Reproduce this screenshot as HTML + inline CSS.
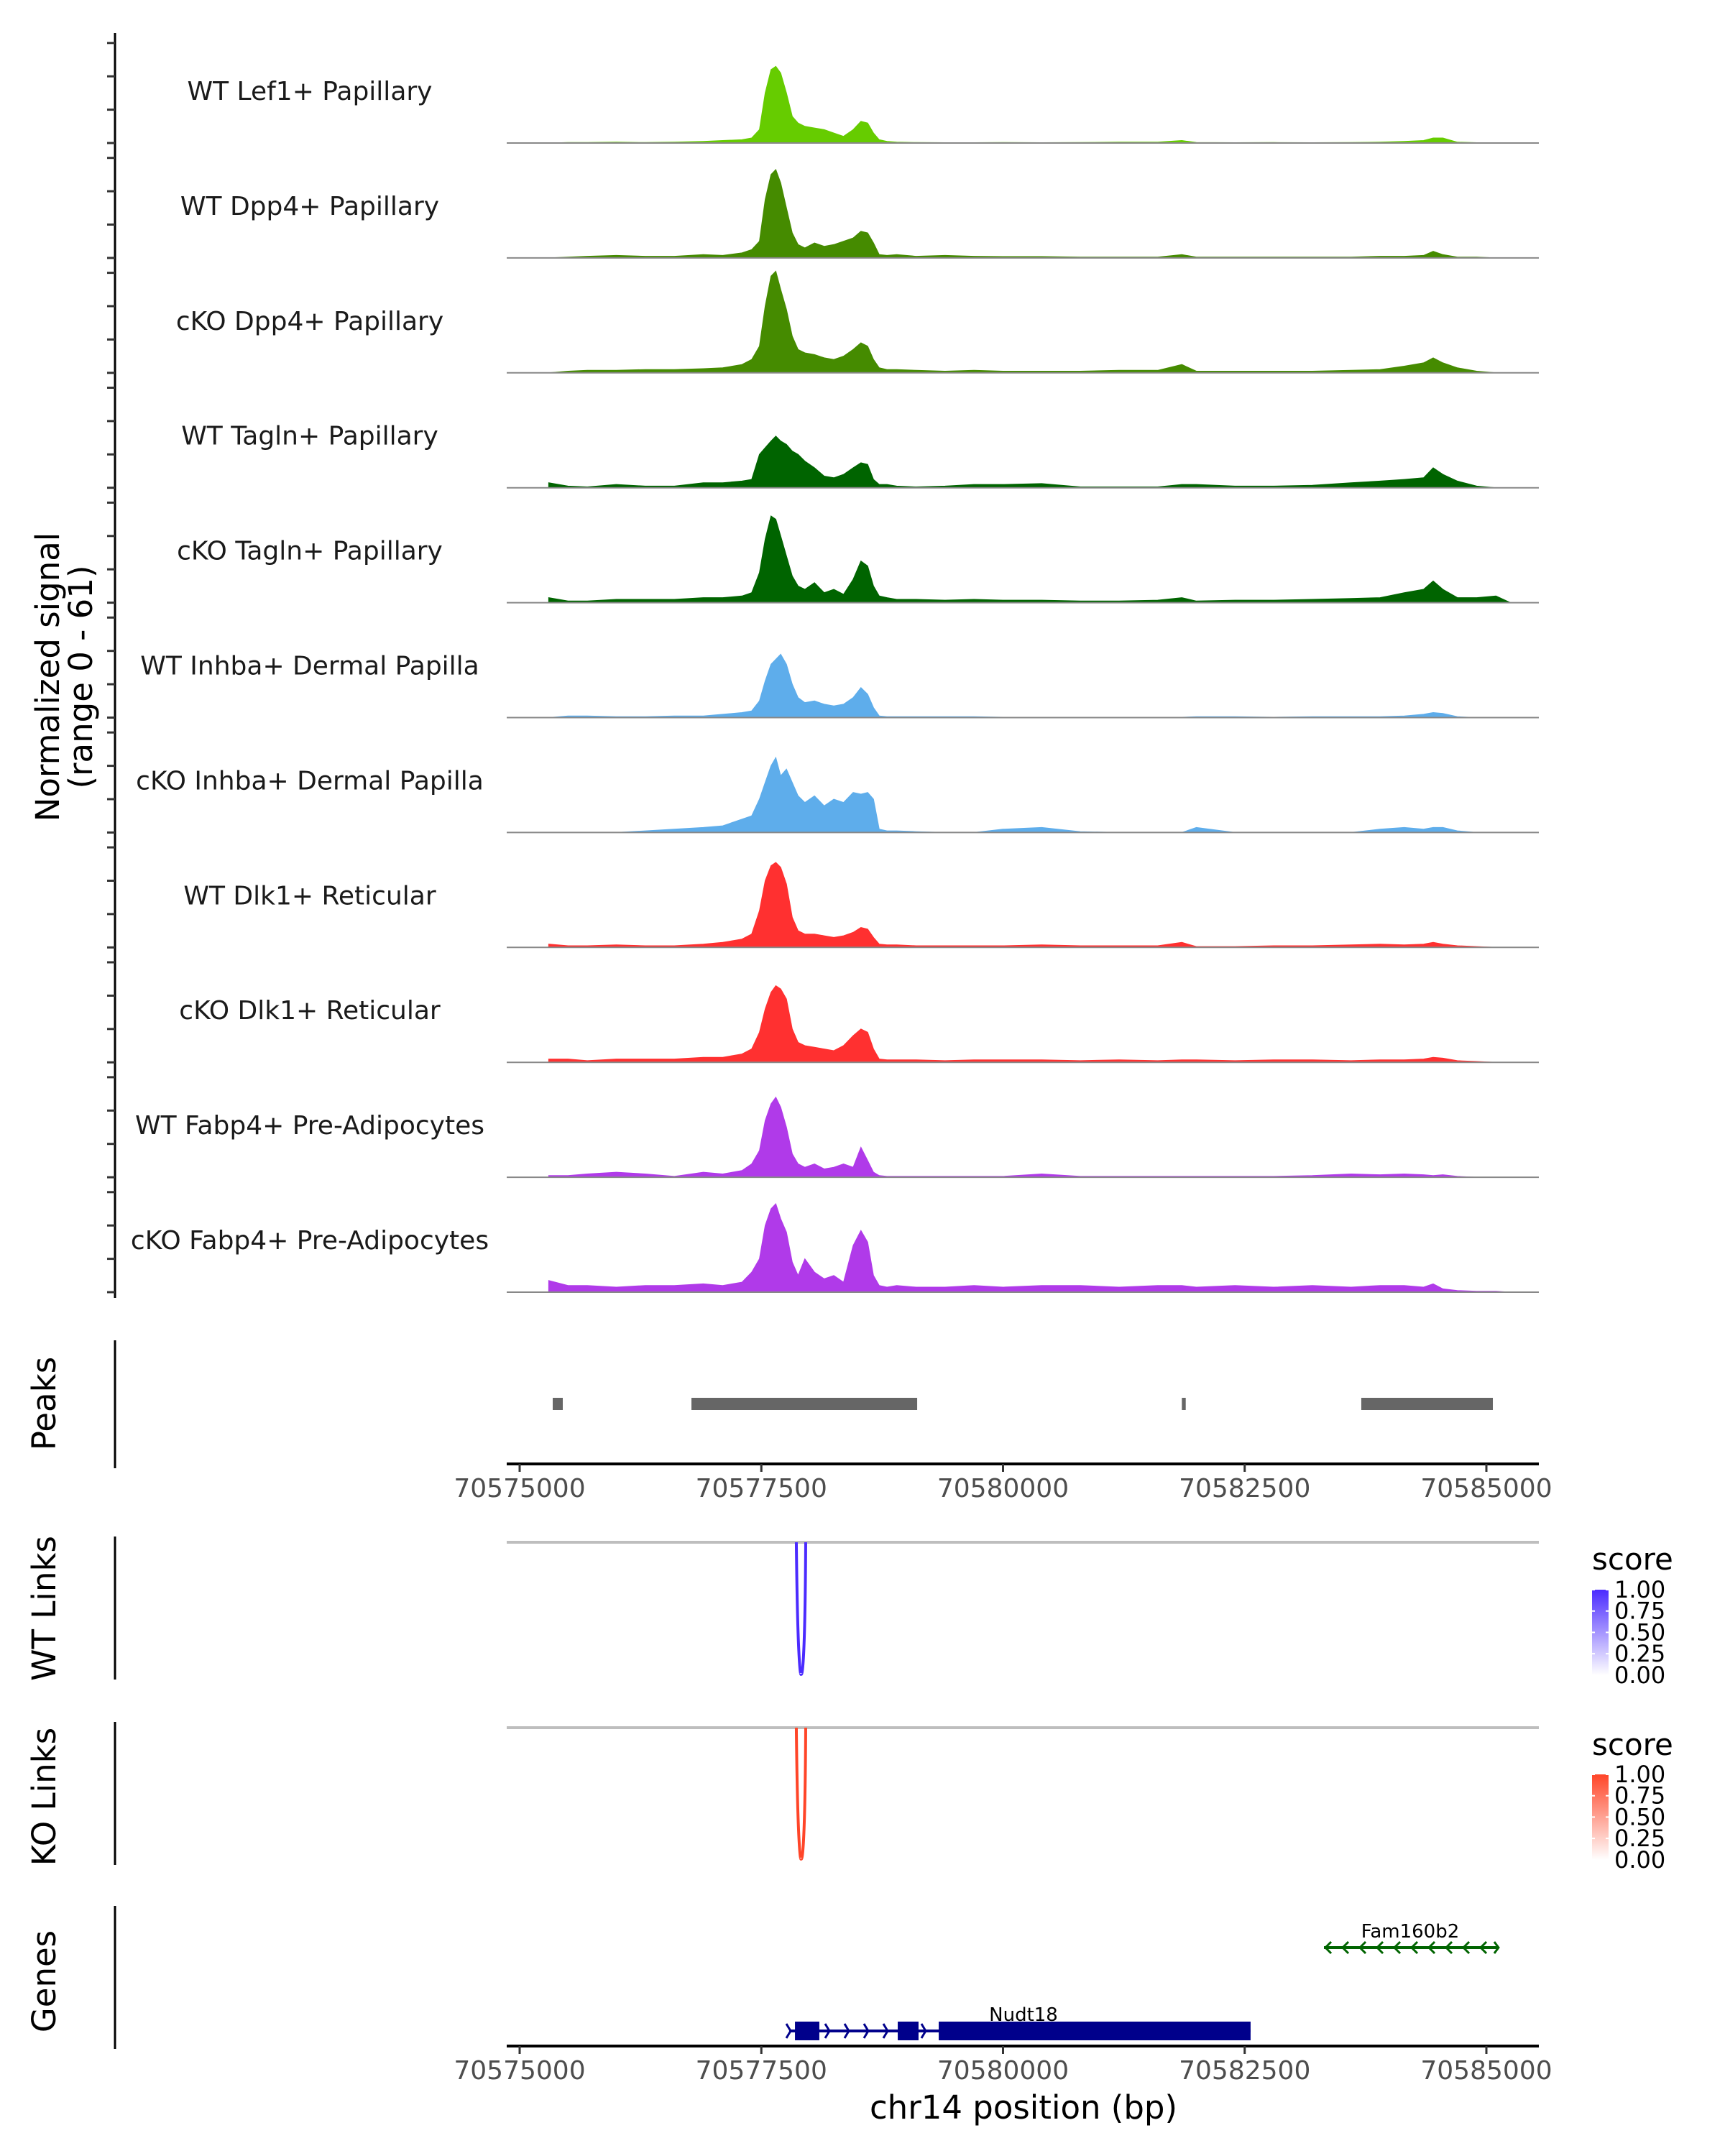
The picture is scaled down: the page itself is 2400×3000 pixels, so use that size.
<!DOCTYPE html>
<html><head><meta charset="utf-8"><style>
html,body{margin:0;padding:0;background:#fff}
svg{display:block;font-family:"DejaVu Sans","Liberation Sans",sans-serif}
</style></head><body>
<svg id="chart" width="2400" height="3000" viewBox="0 0 2400 3000" xmlns="http://www.w3.org/2000/svg"></svg>
<script>
const trackNames = ["WT Lef1+ Papillary","WT Dpp4+ Papillary","cKO Dpp4+ Papillary","WT Tagln+ Papillary","cKO Tagln+ Papillary","WT Inhba+ Dermal Papilla","cKO Inhba+ Dermal Papilla","WT Dlk1+ Reticular","cKO Dlk1+ Reticular","WT Fabp4+ Pre-Adipocytes","cKO Fabp4+ Pre-Adipocytes"];
const trackColors = ["#66cc00","#458b00","#458b00","#006400","#006400","#5eadeb","#5eadeb","#ff3030","#ff3030","#b03ae9","#b03ae9"];
const positions = [70575300,70575500,70575700,70576000,70576300,70576600,70576900,70577100,70577300,70577400,70577480,70577540,70577600,70577650,70577700,70577760,70577820,70577880,70577950,70578050,70578150,70578250,70578350,70578450,70578530,70578600,70578660,70578720,70578800,70578900,70579100,70579400,70579700,70580000,70580400,70580800,70581200,70581600,70581850,70582000,70582400,70582800,70583200,70583600,70583900,70584150,70584350,70584450,70584550,70584700,70584900,70585100,70585250];
const sigLef1WT = [0,0.3,0.3,0.5,0.3,0.5,1,1.5,2,3,8,30,44,46,42,30,16,12,10,9,8,6,4,8,13,12,6,2,1,0.5,0.3,0.2,0.2,0.3,0.2,0.3,0.5,0.5,1.5,0.3,0.2,0.3,0.2,0.3,0.5,1,1.5,3,3,0.5,0.2,0,0];
const sigDpp4WT = [0,0.5,1,1.5,1,1,2,1.5,3,5,10,35,50,53,45,30,15,8,6,9,7,8,10,12,16,15,9,2,1.5,2,1,1.5,1,0.8,0.8,0.5,0.5,0.5,2,0.5,0.5,0.5,0.5,0.5,1,1,1.5,4,2,0.5,0.5,0,0];
const sigDpp4KO = [0,1,1.5,1.5,2,2,2.5,3,5,8,16,40,58,61,50,38,22,14,12,11,9,8,10,14,18,16,8,3,2,2,1.5,1,1.5,1,1,1,1.5,1.5,5,1,1,1,1,1.5,2,4,6,9,6,3,1,0,0];
const sigTaglnWT = [3,1,0.5,2,1,1,3,3,4,5,20,24,28,31,28,26,22,20,16,12,7,6,8,12,15,14,5,2,2,1,0.5,1,2,2,2.5,0.5,0.5,0.5,2,2,1,1,1.5,3,4,5,6,12,8,4,1,0,0];
const sigTaglnKO = [3,1,1,2,2,2,3,3,4,6,18,38,52,50,40,28,16,10,8,12,6,8,5,14,25,22,10,4,3,2,2,1.5,2,1.5,1.5,1,1,1.5,3,1,1.5,1.5,2,2.5,3,6,8,13,8,3,3,4,0];
const sigInhbaWT = [0,1,1,0.5,0.5,1,1,2,3,4,10,22,32,35,38,32,20,12,9,10,8,7,8,12,18,14,6,1,0.5,0.5,0.5,0.5,0.5,0.2,0.2,0.2,0.2,0.2,0.2,0.5,0.5,0.2,0.5,0.5,0.5,1,2,3,2.5,0.5,0,0,0];
const sigInhbaKO = [0,0,0,0,1,2,3,4,8,10,20,30,40,45,34,38,30,22,18,22,16,20,18,24,23,24,20,2,1,1,0.5,0,0,2,3,0.5,0,0,0,3,0,0,0,0,2,3,2,3,3,1,0,0,0];
const sigDlk1WT = [2,1,1,1.5,1,1,2,3,5,8,22,40,49,51,48,38,18,10,8,8,7,6,7,9,12,11,6,2,1.5,1.5,1,1,1,1,1.5,1,1,1,3,0.5,0.5,1,1,1.5,2,1.5,2,3,2,1,0.5,0,0];
const sigDlk1KO = [2,2,1,2,2,2,3,3,5,8,18,32,42,46,44,38,20,12,10,9,8,7,10,16,20,18,8,2,1.5,1.5,1.5,1,1.5,1.5,1.5,1,1.5,1,1.5,1.5,1,1.5,1.5,1,1.5,1.5,2,3,2.5,1,0.5,0,0];
const sigFabp4WT = [1,1,2,3,2,0.5,3,2,4,8,16,34,44,48,42,30,14,8,6,8,5,6,8,6,18,10,3,1,0.5,0.5,0.5,0.5,0.5,0.5,2,0.5,0.5,0.5,0.5,0.5,0.5,0.5,1,2,1.5,2,1.5,1,1.5,0.5,0,0,0];
const sigFabp4KO = [7,4,4,3,4,4,5,4,6,12,20,40,50,53,44,36,18,10,20,12,8,10,6,28,37,30,10,4,3,4,3,3,4,3,4,4,3,4,4,3,4,3,4,3,4,4,3,5,2,1,0.5,0.5,0];
const signals = [sigLef1WT,sigDpp4WT,sigDpp4KO,sigTaglnWT,sigTaglnKO,sigInhbaWT,sigInhbaKO,sigDlk1WT,sigDlk1KO,sigFabp4WT,sigFabp4KO];
const yTicks = [0,20,40,60];
const peakStarts = [70575342,70576777,70581850,70583706];
const peakEnds = [70575446,70579112,70581890,70585067];
const xTicks = [70575000,70577500,70580000,70582500,70585000];
const linkStart = [70577862];
const linkEnd = [70577959];
const linkScore = [1.0];
const legendTicks = ["1.00","0.75","0.50","0.25","0.00"];
const nudtExonStarts = [70577848,70578911,70579335];
const nudtExonEnds = [70578100,70579126,70582561];
const nudtRange = [70577788,70582561];
const famRange = [70583320,70585126];

const NS="http://www.w3.org/2000/svg";
const svg=document.getElementById('chart');
function mk(tag,attrs,parent){const e=document.createElementNS(NS,tag);for(const k in attrs)e.setAttribute(k,attrs[k]);(parent||svg).appendChild(e);return e;}
const X=bp=>723+(bp-70575000)*0.1345;
const PX0=705, PX1=2141;
const base0=199, trackH=159.9, unit=2.32;
const Y=(i,v)=>base0+i*trackH-v*unit;

let ax=mk('line',{x1:160,y1:46,x2:160,y2:1806,stroke:'#000','stroke-width':3});


for(let i=0;i<signals.length;i++){
  const g=mk('g',{});
  
  
  yTicks.forEach(t=>{const tk=mk('line',{x1:149,x2:160,y1:Y(i,t),y2:Y(i,t),stroke:'#333','stroke-width':3},g);
    
    });
  let d='M'+X(positions[0])+','+Y(i,0);
  signals[i].forEach((v,j)=>{d+=' L'+X(positions[j]).toFixed(1)+','+Y(i,v).toFixed(1);});
  d+=' L'+X(positions[positions.length-1])+','+Y(i,0)+' Z';
  const a=mk('path',{d:d,fill:trackColors[i],stroke:trackColors[i],'stroke-width':1},g);
  
  
  const bl=mk('line',{x1:PX0,x2:PX1,y1:Y(i,0),y2:Y(i,0),stroke:'#888','stroke-width':2},g);
  
  
  const t=mk('text',{x:431,y:Y(i,0)-60,'text-anchor':'middle','font-size':36,fill:'#1a1a1a'},g);
  t.textContent=trackNames[i];
  
  
}
function rotTitle(lines,cx,cy,name){
  const t=mk('text',{transform:`translate(${cx},${cy}) rotate(-90)`,'text-anchor':'middle','font-size':45,fill:'#000'});
  lines.forEach((l,k)=>{const s=mk('tspan',{x:0,dy:k?46:0},t);s.textContent=l;});
  
  
}
rotTitle(["Normalized signal","(range 0 - 61)"],82,942,'y-axis-title');

function vline(y1,y2,name){const l=mk('line',{x1:160,x2:160,y1:y1,y2:y2,stroke:'#000','stroke-width':3});
  
  }
function xAxis(y,name){
  const g=mk('g',{});
  
  
  mk('line',{x1:PX0,x2:PX1,y1:y,y2:y,stroke:'#000','stroke-width':4},g);
  xTicks.forEach(t=>{mk('line',{x1:X(t),x2:X(t),y1:y,y2:y+11,stroke:'#333','stroke-width':3},g);
    const l=mk('text',{x:X(t),y:y+46,'text-anchor':'middle','font-size':36,fill:'#4d4d4d'},g);l.textContent=t;
    
    });
}
vline(1865,2043,'peaks-axis');
rotTitle(["Peaks"],77,1953,'peaks-title');
peakStarts.forEach((s,k)=>{const r=mk('rect',{x:X(s),y:1945,width:Math.max(X(peakEnds[k])-X(s),5),height:17,fill:'#666'});
  
  });
xAxis(2037,'peaks-x-axis');

function links(top,gray,bottom,color,title,titleY,name,scoreY,barTop){
  vline(top,top+199,name+'-axis');
  rotTitle([title],77,titleY,name+'-title');
  const gl=mk('line',{x1:PX0,x2:PX1,y1:gray,y2:gray,stroke:'#bebebe','stroke-width':4});
  
  
  linkStart.forEach((s,k)=>{const x1=X(s),x2=X(linkEnd[k]),m=(x1+x2)/2,yb=gray;
    const p=mk('path',{d:`M${x1},${yb} C${x1+2},${bottom} ${m},${bottom+4} ${m},${bottom} C${m+1},${bottom+4} ${x2-1},${bottom} ${x2},${yb}`,fill:'none',stroke:color,'stroke-width':4});
    
    });
  const lg=mk('g',{});
  
  
  const st=mk('text',{x:2215,y:scoreY+15,'font-size':42,fill:'#000'},lg);st.textContent='score';
  const gid='g'+name;
  const df=mk('defs',{},lg);const gr=mk('linearGradient',{id:gid,x1:0,y1:0,x2:0,y2:1},df);
  mk('stop',{offset:0,'stop-color':color},gr);mk('stop',{offset:1,'stop-color':'#ffffff'},gr);
  mk('rect',{x:2215,y:barTop,width:23,height:119,fill:`url(#${gid})`},lg);
  legendTicks.forEach((t,k)=>{const yy=barTop+k*29.7;
    mk('line',{x1:2215,x2:2219,y1:yy,y2:yy,stroke:'#fff','stroke-width':2},lg);
    mk('line',{x1:2234,x2:2238,y1:yy,y2:yy,stroke:'#fff','stroke-width':2},lg);
    const l=mk('text',{x:2246,y:yy+11,'font-size':32,fill:'#000'},lg);l.textContent=t;});
}
links(2138,2146,2329,'#4b2bff','WT Links',2238,'wt-links',2169,2212);
links(2396,2404,2586,'#ff4528','KO Links',2500,'ko-links',2427,2469);

vline(2652,2851,'genes-axis');
rotTitle(["Genes"],77,2757,'genes-title');
const fg=mk('g',{});


mk('line',{x1:X(famRange[0]),x2:X(famRange[1]),y1:2710,y2:2710,stroke:'#006400','stroke-width':4},fg);
for(let x=X(famRange[0])+2;x<X(famRange[1])-10;x+=24){mk('path',{d:`M${x+8},2702 L${x},2710 L${x+8},2718`,fill:'none',stroke:'#006400','stroke-width':3},fg);}
mk('path',{d:`M${X(famRange[1])-6},2702 L${X(famRange[1])},2710 L${X(famRange[1])-6},2718`,fill:'none',stroke:'#006400','stroke-width':3},fg);
const ft=mk('text',{x:1962,y:2696,'text-anchor':'middle','font-size':26,fill:'#000'},fg);ft.textContent='Fam160b2';
const ng=mk('g',{});


mk('line',{x1:X(nudtRange[0]),x2:X(nudtRange[1]),y1:2826,y2:2826,stroke:'#00008b','stroke-width':4},ng);
for(let x=X(nudtRange[0])-4;x<X(nudtExonStarts[1])-10;x+=27){mk('path',{d:`M${x},2816 L${x+6},2826 L${x},2836`,fill:'none',stroke:'#00008b','stroke-width':3},ng);}
mk('path',{d:`M${X(nudtExonEnds[1])+4},2816 L${X(nudtExonEnds[1])+10},2826 L${X(nudtExonEnds[1])+4},2836`,fill:'none',stroke:'#00008b','stroke-width':3},ng);
nudtExonStarts.forEach((s,k)=>{const r=mk('rect',{x:X(s),y:2813,width:X(nudtExonEnds[k])-X(s),height:26,fill:'#00008b'},ng);
  
  });
const nt=mk('text',{x:1424,y:2812,'text-anchor':'middle','font-size':26,fill:'#000'},ng);nt.textContent='Nudt18';
xAxis(2847,'genes-x-axis');
const xt=mk('text',{x:1424,y:2948,'text-anchor':'middle','font-size':45,fill:'#000'});xt.textContent='chr14 position (bp)';


</script>
</body></html>
